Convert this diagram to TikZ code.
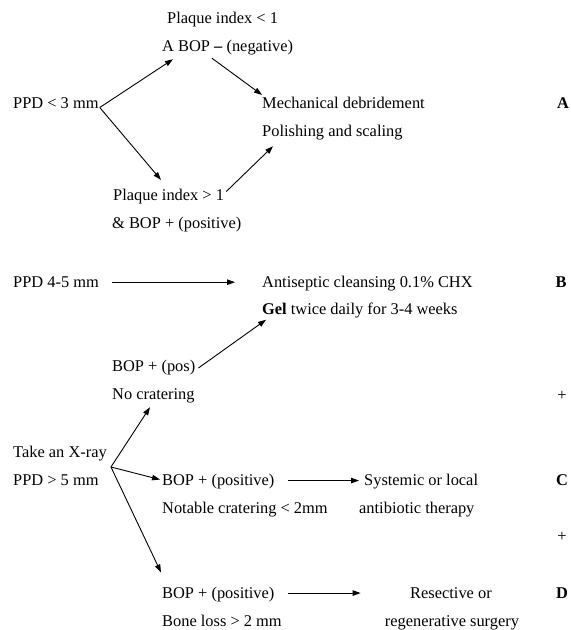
\documentclass[tikz,border=0pt]{standalone}
\usepackage{fontspec}
\setmainfont{Liberation Serif}
\usetikzlibrary{arrows.meta,calc}
\begin{document}
\begin{tikzpicture}[x=1pt,y=-1pt,
  txt/.style={anchor=base west,inner sep=0pt,font=\fontsize{16.4}{19}\selectfont},
  ctr/.style={anchor=base,inner sep=0pt,font=\fontsize{16.4}{19}\selectfont},
  tag/.style={anchor=base,inner sep=0pt,font=\fontsize{16.4}{19}\selectfont\bfseries},
  arr/.style={line width=0.9pt,-{Triangle[length=8pt,width=5.5pt]}}]
\useasboundingbox (0,0) rectangle (571,630);

% --- PPD < 3 mm branch
\node[txt] (pi1)    at (167,23.5)  {Plaque index < 1};
\node[txt] (abop)   at (162,51.5)  {A BOP \textbf{--} (negative)};
\node[txt] (ppd3)   at (13,108.5)  {PPD < 3 mm};
\node[txt] (mech)   at (262,108.5) {Mechanical debridement};
\node[txt] (polish) at (262,136.5) {Polishing and scaling};
\node[txt] (pi2)    at (113,200.5) {Plaque index > 1};
\node[txt] (bopp)   at (112,228.5) {\& BOP + (positive)};

% --- PPD 4-5 mm branch
\node[txt] (ppd45)  at (13,287.5)  {PPD 4-5 mm};
\node[txt] (anti)   at (262,287.5) {Antiseptic cleansing 0.1\% CHX};
\node[txt] (gel)    at (262,314)   {\textbf{Gel} twice daily for 3-4 weeks};

% --- PPD > 5 mm branch
\node[txt] (boppos) at (112,371)   {BOP + (pos)};
\node[txt] (nocrat) at (112,399.5) {No cratering};
\node[txt] (xray)   at (13,457)    {Take an X-ray};
\node[txt] (ppd5)   at (13,485.5)  {PPD > 5 mm};
\node[txt] (bopc)   at (162,485.5) {BOP + (positive)};
\node[txt] (notable) at (162,513.5) {Notable cratering < 2mm};
\node[txt] (sys)    at (364,485.5) {Systemic or local};
\node[txt] (antib)  at (359,513.5) {antibiotic therapy};
\node[txt] (bopd)   at (162,598)   {BOP + (positive)};
\node[txt] (bone)   at (162,626)   {Bone loss > 2 mm};
\node[ctr] (res)    at (451,598)   {Resective or};
\node[ctr] (regen)  at (452,626)   {regenerative surgery};

% --- side labels
\node[tag] (la)    at (563,108.5) {A};
\node[tag] (lb)    at (561,287.5) {B};
\node[ctr] (plus1) at (562,400)   {+};
\node[tag] (lc)    at (562,485.5) {C};
\node[ctr] (plus2) at (562,541)   {+};
\node[tag] (ld)    at (562,598)   {D};

% --- connectors
\coordinate (s3) at ($(ppd3.base east)+(1,-1)$);
\draw[arr] (s3) -- ($(abop.south west)+(11,4)$);
\draw[arr] ($(abop.south west)+(50,3)$) -- ($(mech.north west)+(0,-2)$);
\draw[arr] (s3) -- ($(pi2.north west)+(48,-9)$);
\draw[arr] ($(pi2.east)+(2,-5)$) -- ($(polish.south west)+(11,6)$);

\draw[arr] ($(ppd45.east)+(13,0)$) -- ($(ppd45.east -| anti.west)+(-27,0)$);
\draw[arr] ($(boppos.base east)+(3,-3)$) -- ($(gel.south west)+(4,2)$);

\coordinate (fork) at ($(xray.base east)+(4,10)$);
\draw[arr] (fork) -- ($(nocrat.south west)+(38,4)$);
\draw[arr] (fork) -- ($(bopc.west)+(-2,-2)$);
\draw[arr] (fork) -- ($(bopd.north west)+(-1,-14)$);

\draw[arr] ($(bopc.east)+(13,-1)$) -- ($(bopc.east -| sys.west)+(-5,-1)$);
\draw[arr] ($(bopd.east)+(13,-1)$) -- ($(bopd.east)+(86,-1)$);
\end{tikzpicture}
\end{document}
